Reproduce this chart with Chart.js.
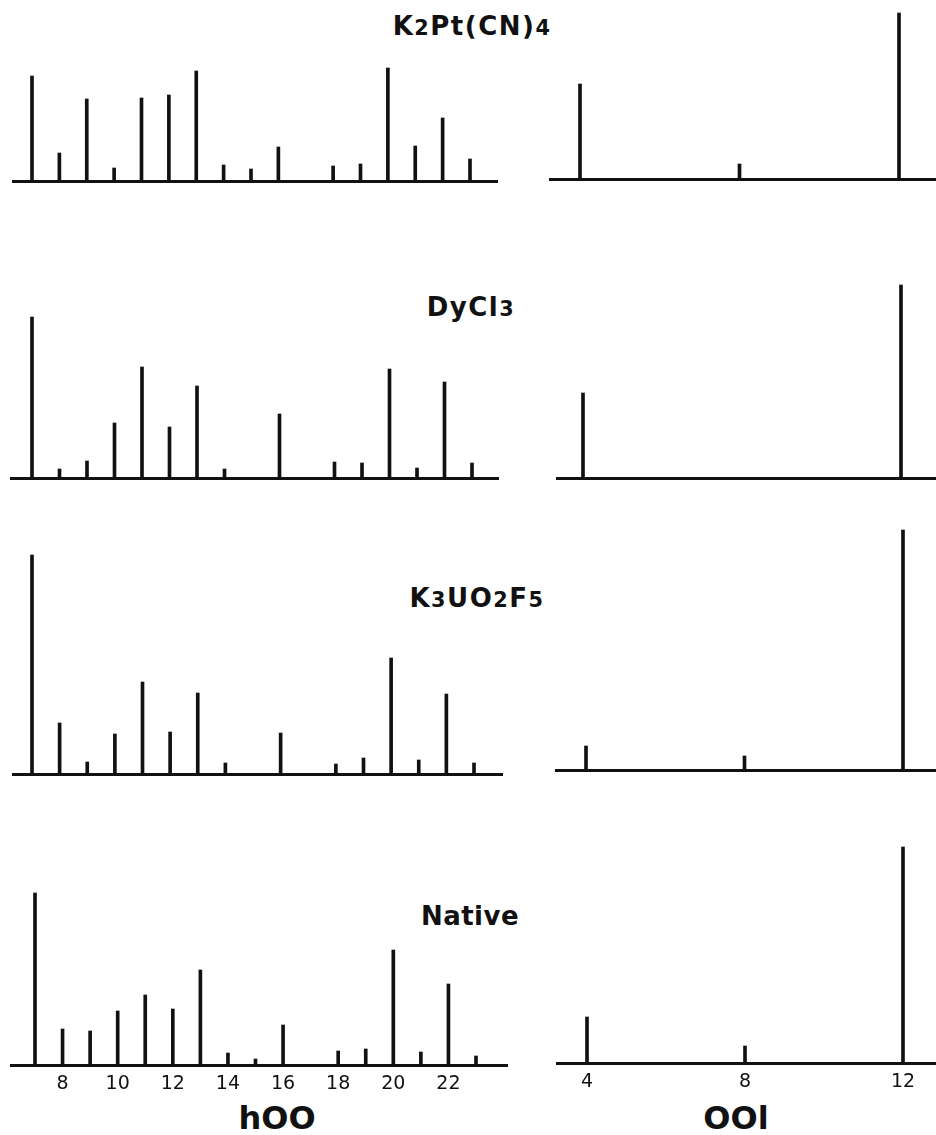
<!DOCTYPE html>
<html>
<head>
<meta charset="utf-8">
<script src="https://cdn.jsdelivr.net/npm/chart.js@4.4.1/dist/chart.umd.min.js"></script>
<style>
  body { margin: 0; background: #fff; }
  #page { position: relative; width: 936px; height: 1135px; overflow: hidden; font-family: "DejaVu Sans", sans-serif; color: #111; }
  canvas { position: absolute; }
  .label { position: absolute; transform: translate(-50%, -50%); line-height: 1; white-space: nowrap; }
  .formula { font-size: 26px; font-weight: bold; letter-spacing: 1.5px; }
  .formula sub { font-size: 0.8em; vertical-align: baseline; }
  .axis-name { font-size: 32px; font-weight: bold; }
</style>
</head>
<body>
<div id="page">
  <div class="label formula" style="left:472px;top:26px">K<sub>2</sub>Pt(CN)<sub>4</sub></div>
  <div class="label formula" style="left:471px;top:307px">DyCl<sub>3</sub></div>
  <div class="label formula" style="left:477px;top:598px">K<sub>3</sub>UO<sub>2</sub>F<sub>5</sub></div>
  <div class="label formula" style="left:470px;top:916px;letter-spacing:0.5px">Native</div>
  <div class="label axis-name" style="left:277px;top:1118px">hOO</div>
  <div class="label axis-name" style="left:736px;top:1118px">OOl</div>
</div>
<script>
// h00 reflections (left column) and 00l reflections (right column)
const hK2Pt = [7, 8, 9, 10, 11, 12, 13, 14, 15, 16, 18, 19, 20, 21, 22, 23];
const iK2Pt = [105, 28, 82, 13, 83, 86, 110, 16, 12, 34, 15, 17, 113, 35, 63, 22];
const lK2Pt = [4, 8, 12];
const jK2Pt = [95, 15, 166];

const hDyCl3 = [7, 8, 9, 10, 11, 12, 13, 14, 16, 18, 19, 20, 21, 22, 23];
const iDyCl3 = [161, 9, 17, 55, 111, 51, 92, 9, 64, 16, 15, 109, 10, 96, 15];
const lDyCl3 = [4, 12];
const jDyCl3 = [85, 193];

const hK3UO2F5 = [7, 8, 9, 10, 11, 12, 13, 14, 16, 18, 19, 20, 21, 22, 23];
const iK3UO2F5 = [219, 51, 12, 40, 92, 42, 81, 11, 41, 10, 16, 116, 14, 80, 11];
const lK3UO2F5 = [4, 8, 12];
const jK3UO2F5 = [24, 14, 240];

const hNative = [7, 8, 9, 10, 11, 12, 13, 14, 15, 16, 18, 19, 20, 21, 22, 23];
const iNative = [172, 36, 34, 54, 70, 56, 95, 12, 6, 40, 14, 16, 115, 13, 81, 9];
const lNative = [4, 8, 12];
const jNative = [46, 17, 216];

const hTicks = [8, 10, 12, 14, 16, 18, 20, 22];
const lTicks = [4, 8, 12];

// panel geometry: area edges, baseline, plot height, two anchor values and their pixels
const leftPanels = [
  { x0: 12, x1: 498, base: 181, area: 175, a: [7, 32], b: [23, 470] },
  { x0: 10, x1: 499, base: 478, area: 200, a: [7, 32], b: [23, 472] },
  { x0: 12, x1: 503, base: 774, area: 250, a: [7, 32], b: [23, 474] },
  { x0: 10, x1: 508, base: 1065, area: 225, a: [7, 35], b: [23, 476] }
];
const rightPanels = [
  { x0: 549, x1: 936, base: 179, area: 175, a: [4, 580], b: [12, 899] },
  { x0: 556, x1: 936, base: 478, area: 200, a: [4, 583], b: [12, 901] },
  { x0: 555, x1: 936, base: 770, area: 250, a: [4, 586], b: [12, 903] },
  { x0: 556, x1: 936, base: 1063, area: 225, a: [4, 587], b: [12, 903] }
];

// tick label line height + 2 * tick padding
const AXIS_H = 39;

function makePanel(geo, xs, ys, tickVals, showTicks) {
  const page = document.getElementById('page');
  const canvas = document.createElement('canvas');
  const width = geo.x1 - geo.x0;
  const height = geo.area + 2 + (showTicks ? AXIS_H : 3);
  canvas.width = width;
  canvas.height = height;
  canvas.style.left = geo.x0 + 'px';
  canvas.style.top = (geo.base - geo.area - 2) + 'px';
  canvas.style.width = width + 'px';
  canvas.style.height = height + 'px';
  page.appendChild(canvas);

  const pxPerUnit = (geo.b[1] - geo.a[1]) / (geo.b[0] - geo.a[0]);
  const xMin = geo.a[0] - (geo.a[1] - geo.x0) / pxPerUnit;
  const xMax = geo.b[0] + (geo.x1 - geo.b[1]) / pxPerUnit;

  new Chart(canvas.getContext('2d'), {
    type: 'bar',
    data: {
      datasets: [{
        data: xs.map((x, i) => ({ x: x, y: ys[i] })),
        backgroundColor: '#111',
        borderWidth: 0,
        barThickness: 3
      }]
    },
    options: {
      responsive: false,
      animation: false,
      devicePixelRatio: 1,
      layout: { padding: { top: 2, bottom: showTicks ? 0 : 3, left: 0, right: 0 } },
      plugins: { legend: { display: false }, tooltip: { enabled: false } },
      scales: {
        x: {
          type: 'linear',
          offset: false,
          min: xMin,
          max: xMax,
          grid: { display: false, drawTicks: false, tickLength: 0 },
          border: { display: true, color: '#111', width: 3 },
          ticks: {
            display: showTicks,
            color: '#111',
            padding: 9,
            font: { family: 'DejaVu Sans', size: 19, lineHeight: '21px' }
          },
          afterBuildTicks: axis => {
            axis.ticks = tickVals.map(v => ({ value: v }));
          }
        },
        y: { display: false, min: 0, max: geo.area }
      }
    }
  });
}

const hData = [[hK2Pt, iK2Pt], [hDyCl3, iDyCl3], [hK3UO2F5, iK3UO2F5], [hNative, iNative]];
const lData = [[lK2Pt, jK2Pt], [lDyCl3, jDyCl3], [lK3UO2F5, jK3UO2F5], [lNative, jNative]];

hData.forEach((d, i) => makePanel(leftPanels[i], d[0], d[1], hTicks, i === 3));
lData.forEach((d, i) => makePanel(rightPanels[i], d[0], d[1], lTicks, i === 3));
</script>
</body>
</html>
